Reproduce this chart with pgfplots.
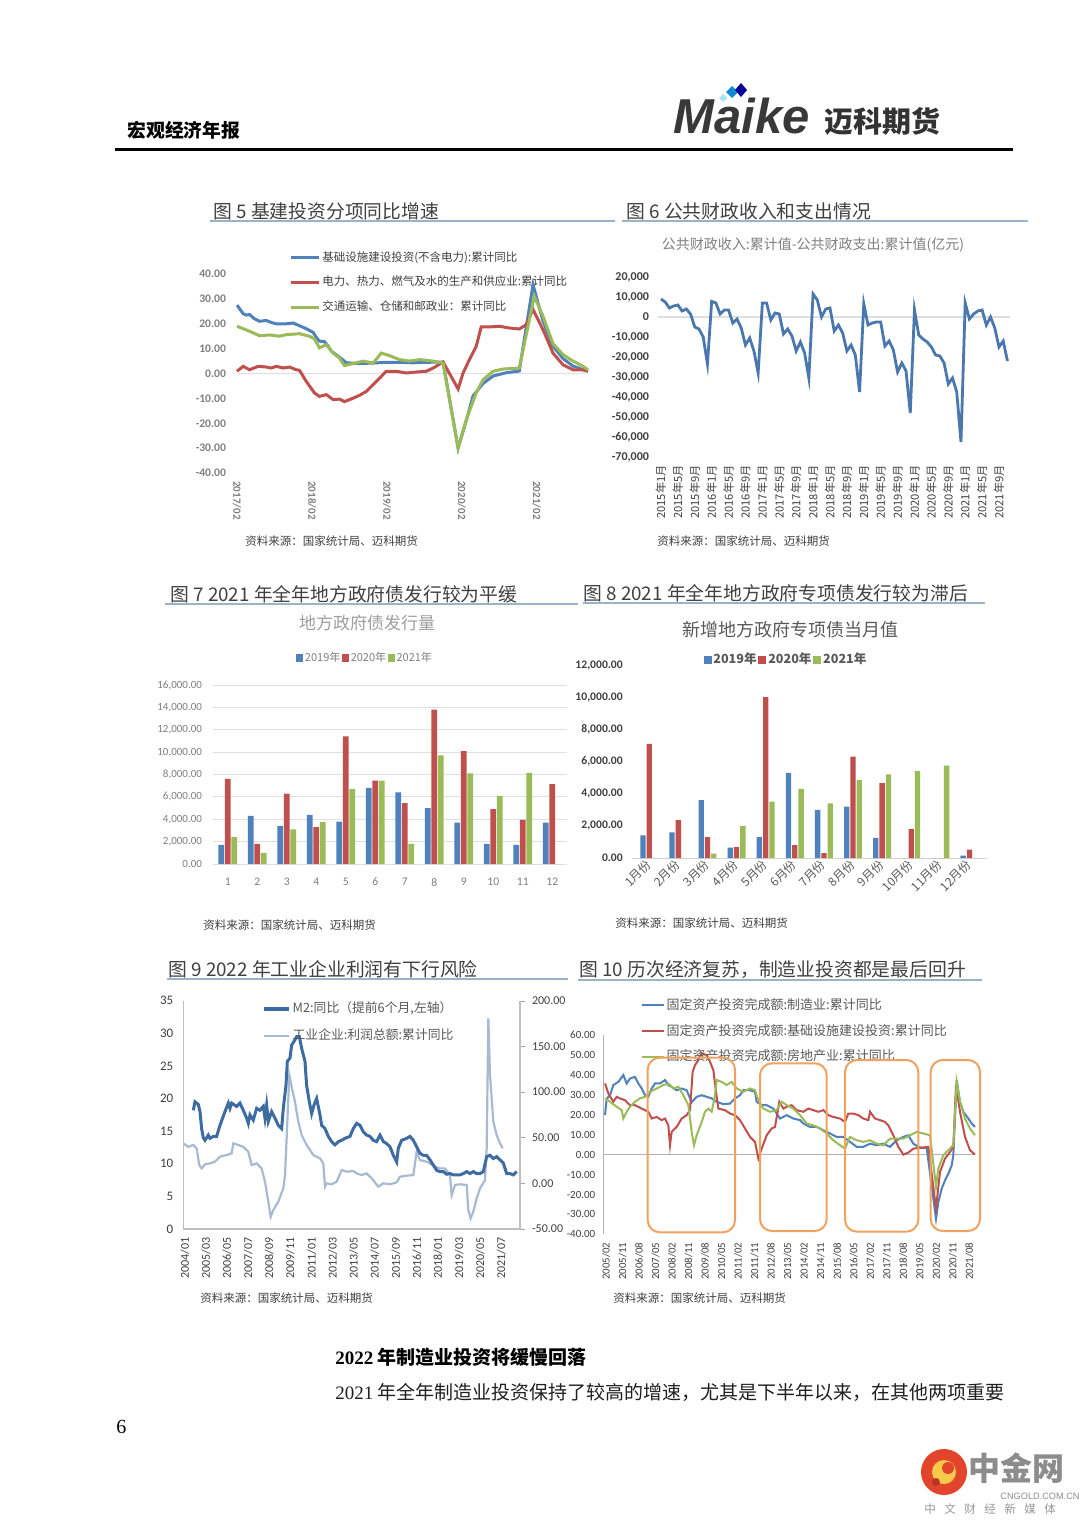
\documentclass[border=0pt]{standalone}
\usepackage{fontspec}
\usepackage{pgfplots}
\pgfplotsset{compat=1.18}
\setmainfont{Noto Sans CJK SC}
\newfontfamily\carl{Carlito}
\newfontfamily\lser{Liberation Serif}
\newfontfamily\lsans{Liberation Sans}
\newcommand\fs[1]{\fontsize{#1}{#1}\selectfont}
\definecolor{xlblue}{HTML}{4F81BD}
\definecolor{xlred}{HTML}{C0504D}
\definecolor{xlgreen}{HTML}{9BBB59}
\definecolor{m2blue}{HTML}{3D6CA3}
\definecolor{proflight}{HTML}{A8BAD2}
\definecolor{txt}{HTML}{404040}
\definecolor{txtg}{HTML}{595959}
\definecolor{lgray}{HTML}{7F7F7F}
\definecolor{uline}{HTML}{9CB2CB}
\definecolor{obox}{HTML}{F0A25E}
\definecolor{wmred}{HTML}{E2452B}
\definecolor{wmyel}{HTML}{F6C94A}
\pgfplotsset{
  every axis/.append style={scale only axis, anchor=south west,
    /pgf/number format/assume math mode=true, axis line style={draw=none},
    major tick length=0pt, clip=false, scaled ticks=false},
  fix2/.style={/pgf/number format/fixed, /pgf/number format/fixed zerofill, /pgf/number format/precision=2},
}
\begin{document}
\begin{tikzpicture}
\begin{scope}[x=0.5pt,y=-0.5pt]
\fill[white] (0,0) rectangle (1080,1527);
% header
\node[anchor=west, inner sep=0pt, text=black] at (127,130) {\bfseries\fs{9.4}宏观经济年报};
\node[anchor=base west, inner sep=0pt, text=black!78] at (673,133) {\lsans\bfseries\itshape\fs{24.5}Maike};
\fill[cyan!35] (719,98) -- (723,94) -- (727,98) -- (723,102) -- cycle;
\fill[cyan!70!blue] (726,92) -- (732,86) -- (738,92) -- (732,98) -- cycle;
\fill[blue!60!black] (735,90) -- (741,83) -- (747,90) -- (741,97) -- cycle;
\node[anchor=base west, inner sep=0pt, text=black!80] at (824,132) {\bfseries\fs{14.5}迈科期货};
\draw[black, line width=1.5pt] (115,149) -- (1013,149);
% titles
\node[anchor=base west, inner sep=0pt, text=txt] at (213,218) {\fs{9.4}图 5 基建投资分项同比增速};
\draw[uline, line width=0.8pt] (210,221) -- (615,221);
\node[anchor=base west, inner sep=0pt, text=txt] at (626,218) {\fs{9.4}图 6 公共财政收入和支出情况};
\draw[uline, line width=0.8pt] (622,221) -- (1028,221);
\node[text=lgray, inner sep=0pt] at (813,245) {\fs{7}公共财政收入:累计值-公共财政支出:累计值(亿元)};
\node[anchor=base west, inner sep=0pt, text=txt] at (170,601) {\fs{9.4}图 7 2021 年全年地方政府债发行较为平缓};
\draw[uline, line width=0.8pt] (165,604) -- (578,604);
\node[anchor=base west, inner sep=0pt, text=txt] at (583,600) {\fs{9.4}图 8 2021 年全年地方政府专项债发行较为滞后};
\draw[uline, line width=0.8pt] (583,603) -- (985,603);
\node[text=black!38, inner sep=0pt] at (367,623) {\fs{8.5}地方政府债发行量};
\node[text=txtg, inner sep=0pt] at (790,630) {\fs{9}新增地方政府专项债当月值};
\node[anchor=base west, inner sep=0pt, text=txt] at (168,976) {\fs{9.4}图 9 2022 年工业企业利润有下行风险};
\draw[uline, line width=0.8pt] (167,979) -- (568,979);
\node[anchor=base west, inner sep=0pt, text=txt] at (579,976) {\fs{9.4}图 10 历次经济复苏，制造业投资都是最后回升};
\draw[uline, line width=0.8pt] (578,980) -- (982,980);
% sources
\foreach \sx/\sy in {245/541, 657/541, 203/925, 615/923, 200/1298, 613/1298}
  \node[anchor=west, inner sep=0pt, text=txt] at (\sx,\sy) {\fs{5.75}资料来源：国家统计局、迈科期货};
\end{scope}

% ---------------- Chart 5 ----------------
\begin{axis}[at={(118.5pt,-236.5pt)}, width=175.5pt, height=99.5pt,
  xmin=0, xmax=56.2, ymin=-40, ymax=40,
  ytick={-40,-30,...,40},
  yticklabel style={font=\carl\bfseries\fs{5.8}, text=lgray, fix2}, yticklabel shift=2pt,
  xtick={0,12,24,36,48}, xticklabels={2017/02,2018/02,2019/02,2020/02,2021/02},
  xticklabel style={font=\carl\bfseries\fs{5.5}, text=lgray, rotate=-90, anchor=west, inner sep=0.5pt}, xticklabel shift=3.5pt,
  legend style={draw=none, fill=none, font=\fs{5.75}, text=txt, inner sep=0pt, row sep=4pt,
    nodes={inner sep=1pt}, at={(axis description cs:0.148,0.957)}, anchor=west},
  legend cell align=left,
  legend image code/.code={\draw[#1] (0pt,0pt) -- (14pt,0pt);},
]
\draw[gray!25, line width=0.6pt] (axis cs:0,0) -- (axis cs:56.2,0);
\addplot[xlblue, line width=1.5pt] coordinates {(0,27.5)(1.0,24.0)(1.5,23.5)(2.0,23.7)(2.8,22.0)(3.6,21.0)(4.7,21.3)(5.5,20.5)(6.3,20.0)(7.9,20.0)(9.0,20.3)(10.0,19.2)(11.1,18.0)(12.2,16.5)(12.7,14.5)(13.2,13.0)(14.0,12.8)(14.6,11.0)(15.1,9.0)(15.9,7.5)(16.7,6.0)(17.5,4.3)(19.6,4.0)(21.8,4.2)(23.9,4.5)(26.0,4.5)(28.2,4.3)(30.3,4.5)(33.0,4.6)(35.4,-30.0)(36.7,-19.0)(37.8,-9.0)(39.4,-4.0)(41.0,-1.0)(43.1,0.3)(45.2,1.0)(47.4,35.7)(49.0,21.0)(50.6,11.0)(52.2,6.0)(53.8,3.0)(55.4,1.5)(56.2,1.0)};
\addlegendentry{基础设施建设投资(不含电力):累计同比}
\addplot[xlred, line width=1.5pt] coordinates {(0,0.9)(1.0,2.9)(2.0,1.5)(3.4,2.9)(4.7,2.6)(5.5,2.2)(6.3,2.9)(7.4,2.2)(8.4,2.6)(9.5,1.5)(10.0,1.3)(11.1,-3.2)(12.4,-7.8)(13.2,-9.2)(14.3,-8.5)(15.4,-10.5)(16.4,-10.3)(17.2,-11.3)(18.6,-9.9)(19.6,-8.8)(20.7,-7.2)(22.3,-3.2)(23.9,0.9)(25.5,0.9)(27.1,0.2)(28.7,0.6)(30.3,0.9)(31.4,2.2)(33.0,4.6)(35.4,-6.2)(36.2,0.2)(37.2,5.5)(38.3,10.9)(39.1,18.7)(40.4,18.7)(42.0,19.0)(43.6,18.3)(45.2,17.9)(46.3,19.6)(47.4,25.7)(49.0,17.6)(50.6,8.2)(52.2,3.5)(53.8,1.5)(55.4,1.5)(56.2,0.9)};
\addlegendentry{电力、热力、燃气及水的生产和供应业:累计同比}
\addplot[xlgreen, line width=1.5pt] coordinates {(0,19.0)(2.0,17.0)(3.6,15.2)(5.2,15.5)(6.8,15.0)(7.9,15.6)(10.0,16.0)(11.6,15.0)(12.4,13.9)(13.2,10.3)(14.3,11.6)(15.4,8.2)(16.4,6.2)(17.2,3.2)(18.6,4.0)(20.2,5.0)(21.8,4.2)(23.1,8.2)(24.4,7.2)(26.0,5.6)(27.6,5.0)(29.2,5.6)(31.4,5.0)(33.0,4.2)(35.4,-30.0)(36.7,-18.6)(38.3,-7.8)(39.4,-2.5)(41.0,0.9)(42.6,1.8)(45.2,2.2)(47.6,31.0)(49.0,23.0)(50.6,12.0)(52.2,7.6)(53.8,5.0)(55.4,2.9)(56.2,1.5)};
\addlegendentry{交通运输、仓储和邮政业：累计同比}
\end{axis}

% ---------------- Chart 6 ----------------
\begin{axis}[at={(329pt,-228.5pt)}, width=176.2pt, height=90pt,
  xmin=-0.7, xmax=82.7, ymin=-70000, ymax=20000,
  ytick={-70000,-60000,...,20000},
  yticklabel style={font=\carl\bfseries\fs{6}, text=txt, /pgf/number format/1000 sep={,}}, yticklabel shift=1pt,
  xtick={0,4,...,80},
  xticklabels={2015年1月,2015年5月,2015年9月,2016年1月,2016年5月,2016年9月,2017年1月,2017年5月,2017年9月,2018年1月,2018年5月,2018年9月,2019年1月,2019年5月,2019年9月,2020年1月,2020年5月,2020年9月,2021年1月,2021年5月,2021年9月},
  xticklabel style={font=\fs{5.6}, text=txt, rotate=90, anchor=east, inner sep=0.4pt}, xticklabel shift=3.5pt,
]
\draw[gray!25, line width=0.6pt] (axis cs:-0.7,0) -- (axis cs:82.7,0);
\addplot[xlblue!92!black, line width=1.4pt] coordinates {
(0,9000)(1,7500)(2,4500)(3,5500)(4,6000)(5,3000)(6,4000)(7,1500)(8,-5000)(9,-6000)(10,-10000)(11,-23500)
(12,7800)(13,7000)(14,1500)(15,3500)(16,3500)(17,-3000)(18,-1000)(19,-5500)(20,-14000)(21,-10500)(22,-17000)(23,-28000)
(24,7000)(25,7000)(26,-1500)(27,2000)(28,1500)(29,-8500)(30,-6000)(31,-9500)(32,-17000)(33,-12500)(34,-18000)(35,-30500)
(36,11500)(37,8500)(38,0)(39,4000)(40,4500)(41,-7000)(42,-4000)(43,-8000)(44,-17000)(45,-14000)(46,-19000)(47,-37500)
(48,6600)(49,-4000)(50,-3000)(51,-2500)(52,-2500)(53,-14500)(54,-12000)(55,-16500)(56,-27500)(57,-23000)(58,-27000)(59,-48000)
(60,3600)(61,-9000)(62,-11000)(63,-12500)(64,-15000)(65,-19000)(66,-19500)(67,-23000)(68,-33500)(69,-30500)(70,-37500)(71,-62500)
(72,7000)(73,-1000)(74,1500)(75,3000)(76,3500)(77,-4000)(78,0)(79,-5500)(80,-15000)(81,-12000)(82,-22000)};
\end{axis}

% ---------------- Chart 7 ----------------
\begin{axis}[at={(106.5pt,-432pt)}, width=177pt, height=89.5pt,
  xmin=0.5, xmax=12.5, ymin=0, ymax=16000,
  ybar=0.45pt, bar width=2.8pt,
  ytick={0,2000,...,16000}, ymajorgrids, grid style={gray!25, line width=0.5pt},
  yticklabel style={font=\carl\fs{5.5}, text=lgray, fix2, /pgf/number format/1000 sep={,}}, yticklabel shift=2pt,
  xtick={1,...,12}, xticklabel style={font=\carl\fs{5.8}, text=lgray}, xticklabel shift=3.5pt,
  legend style={draw=none, fill=none, font=\fs{5.5}, text=lgray, inner sep=0pt, legend columns=3,
    nodes={inner sep=0.8pt}, at={(axis description cs:0.429,1.151)}, anchor=center},
  legend image code/.code={\draw[#1, draw=none] (0pt,-1.8pt) rectangle (3.6pt,1.8pt);},
]
\addplot[fill=xlblue, draw=none] coordinates {(1,1700)(2,4300)(3,3400)(4,4400)(5,3800)(6,6800)(7,6400)(8,5000)(9,3700)(10,1800)(11,1700)(12,3700)};
\addlegendentry{2019年}
\addplot[fill=xlred, draw=none] coordinates {(1,7600)(2,1800)(3,6300)(4,3300)(5,11400)(6,7450)(7,5450)(8,13800)(9,10100)(10,4900)(11,3950)(12,7150)};
\addlegendentry{2020年}
\addplot[fill=xlgreen, draw=none] coordinates {(1,2400)(2,1000)(3,3100)(4,3750)(5,6700)(6,7450)(7,1800)(8,9700)(9,8100)(10,6100)(11,8150)(12,0)};
\addlegendentry{2021年}
\end{axis}

% ---------------- Chart 8 ----------------
\begin{axis}[at={(315.9pt,-429pt)}, width=177.55pt, height=96.5pt,
  xmin=0.4, xmax=12.6, ymin=0, ymax=12000,
  ybar=0.5pt, bar width=2.65pt,
  ytick={0,2000,...,12000},
  yticklabel style={font=\carl\bfseries\fs{5.8}, text=txt, fix2, /pgf/number format/1000 sep={,}}, yticklabel shift=1pt,
  xtick={1,...,12}, xticklabels={1月份,2月份,3月份,4月份,5月份,6月份,7月份,8月份,9月份,10月份,11月份,12月份},
  xticklabel style={font=\fs{6}, text=txtg, rotate=45, anchor=east, inner sep=0.3pt}, xticklabel shift=2pt,
  legend style={draw=none, fill=none, font=\bfseries\fs{6.3}, text=txtg, inner sep=0pt, legend columns=3,
    nodes={inner sep=0.9pt}, at={(axis description cs:0.434,1.026)}, anchor=center},
  legend image code/.code={\draw[#1, draw=none] (0pt,-2pt) rectangle (4pt,2pt);},
]
\draw[gray!35, line width=0.5pt] (axis cs:0.4,0) -- (axis cs:12.6,0);
\addplot[fill=xlblue, draw=none] coordinates {(1,1400)(2,1600)(3,3600)(4,650)(5,1300)(6,5300)(7,3000)(8,3200)(9,1250)(10,0)(11,0)(12,150)};
\addlegendentry{2019年}
\addplot[fill=xlred, draw=none] coordinates {(1,7100)(2,2350)(3,1300)(4,680)(5,10000)(6,800)(7,300)(8,6300)(9,4650)(10,1800)(11,0)(12,520)};
\addlegendentry{2020年}
\addplot[fill=xlgreen, draw=none] coordinates {(1,0)(2,0)(3,270)(4,2000)(5,3500)(6,4300)(7,3400)(8,4850)(9,5200)(10,5400)(11,5750)(12,0)};
\addlegendentry{2021年}
\end{axis}

% ---------------- Chart 9 (right axis) ----------------
\begin{axis}[at={(91.65pt,-614.5pt)}, width=168.35pt, height=114.15pt,
  xmin=100, xmax=1110, ymin=-50, ymax=200, xtick=\empty,
  ytick={-50,0,...,200}, ytick pos=right, yticklabel pos=right,
  major tick length=2.5pt, tick align=outside, ytick style={draw=gray!70},
  yticklabel style={font=\carl\fs{6}, text=txt, fix2},
]
\addplot[proflight, line width=1.1pt] coordinates {(100,43.8)(115,40.0)(130,42.0)(140,38.3)(148,20.0)(155,16.4)(165,20.8)(180,21.9)(195,23.7)(210,29.2)(230,31.0)(245,32.8)(250,43.8)(265,42.0)(280,40.0)(295,34.7)(305,20.0)(320,21.9)(335,16.4)(345,1.8)(355,-20.0)(362,-36.5)(370,-29.2)(385,-20.0)(400,-5.5)(405,9.1)(410,49.3)(418,118.6)(425,105.8)(435,89.4)(445,67.5)(455,52.9)(470,42.0)(490,31.0)(510,27.4)(520,21.9)(525,-3.6)(530,0.0)(545,-1.0)(560,1.8)(575,14.6)(590,12.8)(610,13.5)(620,10.9)(635,9.1)(650,10.9)(665,5.5)(685,-3.6)(700,0.0)(720,-1.0)(740,1.1)(750,7.3)(770,8.4)(790,9.1)(800,34.7)(810,25.5)(830,23.7)(840,21.9)(855,18.2)(870,16.4)(885,16.4)(900,9.1)(905,-12.8)(915,-1.8)(930,-1.0)(950,-1.8)(955,-29.2)(962,-38.3)(970,-31.0)(980,-16.4)(990,-5.5)(1005,3.6)(1010,38.3)(1015,180.7)(1020,118.6)(1030,67.5)(1040,52.9)(1050,43.8)(1058,38.3)};
\end{axis}
% ---------------- Chart 9 (left axis) ----------------
\begin{axis}[at={(91.65pt,-614.5pt)}, width=168.35pt, height=114.15pt,
  xmin=100, xmax=1110, ymin=0, ymax=35, ytick={0,5,...,35},
  yticklabel style={font=\carl\fs{6.5}, text=txt}, yticklabel shift=1.5pt,
  xtick={105,168,231,295,358,421,485,548,611,674,738,801,864,928,991,1054},
  xticklabels={2004/01,2005/03,2006/05,2007/07,2008/09,2009/11,2011/01,2012/03,2013/05,2014/07,2015/09,2016/11,2018/01,2019/03,2020/05,2021/07},
  xticklabel style={font=\carl\fs{6}, text=txt, rotate=90, anchor=east, inner sep=0.5pt}, xticklabel shift=3.5pt,
  legend style={draw=none, fill=none, font=\fs{6.4}, text=txtg, inner sep=0pt, row sep=4.5pt,
    nodes={inner sep=1pt}, at={(axis description cs:0.234,0.905)}, anchor=west},
  legend cell align=left,
  legend image code/.code={\draw[#1] (0pt,0pt) -- (12.5pt,0pt);},
]
\draw[gray!50, line width=0.6pt] (axis cs:100,35) -- (axis cs:100,0) -- (axis cs:1110,0) -- (axis cs:1110,35);
\addlegendimage{m2blue, line width=1.6pt}
\addlegendentry{M2:同比（提前6个月,左轴）}
\addlegendimage{proflight, line width=1.1pt}
\addlegendentry{工业企业:利润总额:累计同比}
\addplot[m2blue, line width=1.5pt, forget plot] coordinates {(130,18.2)(135,19.5)(145,19.1)(150,18.0)(155,15.4)(160,14.0)(165,13.6)(175,14.4)(180,13.9)(190,14.2)(200,14.2)(210,15.9)(225,18.0)(235,19.3)(240,18.5)(245,19.3)(260,18.8)(270,19.3)(280,18.2)(290,17.0)(295,16.2)(300,17.5)(310,16.7)(320,18.5)(330,18.2)(340,18.8)(345,17.0)(350,19.0)(355,16.5)(365,18.0)(375,17.0)(385,15.9)(395,15.4)(400,18.5)(408,22.0)(412,25.7)(420,26.2)(425,28.2)(435,29.0)(440,29.5)(448,29.5)(455,27.7)(465,25.7)(470,22.0)(478,19.5)(485,17.7)(492,19.0)(500,20.0)(510,17.5)(515,15.9)(525,15.4)(535,14.2)(545,13.4)(555,12.9)(565,13.4)(575,13.6)(585,13.9)(600,14.2)(610,15.4)(620,16.2)(630,15.9)(640,14.9)(650,14.4)(660,14.2)(670,13.6)(680,13.4)(690,14.4)(700,13.4)(710,13.1)(720,12.6)(730,11.3)(740,10.3)(745,12.4)(755,13.6)(770,13.9)(780,14.2)(790,13.6)(800,12.6)(810,11.6)(820,11.3)(830,11.3)(840,10.6)(850,9.8)(860,9.0)(870,8.8)(880,8.8)(890,8.4)(900,8.5)(910,8.3)(920,8.3)(930,8.3)(940,8.5)(950,8.8)(960,8.5)(970,8.8)(980,8.5)(990,8.5)(1000,8.8)(1010,11.1)(1020,11.3)(1030,10.8)(1040,11.1)(1050,10.6)(1060,10.1)(1070,8.5)(1080,8.5)(1090,8.3)(1100,8.8)};
\end{axis}

% ---------------- Chart 10 ----------------
\begin{axis}[at={(301.67pt,-617.17pt)}, width=185.83pt, height=99.67pt,
  xmin=100, xmax=1215, ymin=-40, ymax=60, ytick={-40,-30,...,60},
  yticklabel style={font=\carl\fs{5.5}, text=txt, fix2}, yticklabel shift=0.5pt,
  xtick={108,157.5,207,256.6,306.2,355.7,405.3,454.8,504.4,553.9,603.5,653,702.6,752.1,801.7,851.2,900.8,950.3,999.9,1049.4,1099,1148.5,1198},
  xticklabels={2005/02,2005/11,2006/08,2007/05,2008/02,2008/11,2009/08,2010/05,2011/02,2011/11,2012/08,2013/05,2014/02,2014/11,2015/08,2016/05,2017/02,2017/11,2018/08,2019/05,2020/02,2020/11,2021/08},
  xticklabel style={font=\carl\fs{5.4}, text=txt, rotate=90, anchor=east, inner sep=0.5pt}, xticklabel shift=3.5pt,
  legend style={draw=none, fill=none, font=\fs{6.5}, text=txtg, inner sep=0pt, row sep=3.8pt,
    nodes={inner sep=1pt}, at={(axis description cs:0.099,1.02)}, anchor=west},
  legend cell align=left,
  legend image code/.code={\draw[#1] (0pt,0pt) -- (11pt,0pt);},
]
\draw[gray!60, line width=0.5pt] (axis cs:100,-40) -- (axis cs:100,60);
\draw[gray!60, line width=0.5pt] (axis cs:100,0) -- (axis cs:1215,0);
\addplot[xlblue, line width=1pt] coordinates {(105,19.8)(110,28)(120,29.8)(130,34.9)(145,36.5)(160,39.9)(170,35.7)(180,38.2)(195,39)(205,35.7)(215,33.2)(225,29.8)(235,29)(245,33.2)(255,35.7)(270,35.7)(285,37.4)(295,34.9)(305,34)(320,32.3)(335,33.2)(350,32.3)(365,26.3)(380,29)(395,29.8)(410,29)(425,28.2)(440,26.5)(460,25.3)(480,25.6)(495,28.2)(510,29.8)(520,32.3)(540,32.3)(555,31.5)(560,26.5)(575,24.8)(590,24.8)(610,23.1)(630,18.1)(650,19.8)(670,18.1)(690,17.3)(700,15.6)(720,13.9)(740,13.9)(760,12.2)(780,10.6)(800,8.9)(820,8.9)(840,6.4)(860,3.9)(880,3.9)(900,5.5)(920,4.7)(940,5.5)(960,3.9)(980,7.2)(1000,8.9)(1015,9.7)(1030,5.5)(1045,3.9)(1055,3.4)(1070,3.4)(1098,-32.2)(1105,-23.8)(1115,-17.1)(1125,-12.9)(1135,-9.6)(1145,-5.4)(1150,-0.3)(1160,37.4)(1170,26.5)(1180,21.5)(1195,18.1)(1205,15.6)(1215,13.9)};
\addlegendentry{固定资产投资完成额:制造业:累计同比}
\addplot[xlred, line width=1pt] coordinates {(105,35.7)(115,30.7)(130,26.5)(140,29)(150,28.2)(165,27.3)(180,24.8)(195,24.8)(215,23.1)(235,21.5)(245,18.1)(260,18.9)(275,17.3)(285,18.1)(295,14.7)(300,4.7)(305,11.4)(320,13.9)(335,18.1)(350,19.8)(360,22.3)(368,41.6)(375,44.9)(385,47.4)(395,50.8)(410,49.9)(420,46.6)(430,42.4)(438,31.5)(445,23.1)(465,22.3)(480,20.6)(495,19.8)(510,17.3)(525,13.1)(540,8.9)(555,6.4)(565,-2)(575,3)(590,9.7)(605,13.1)(615,13.9)(628,26.5)(640,23.1)(650,24)(665,24.8)(680,22.3)(700,21.5)(715,23.1)(730,22.3)(745,21.5)(760,22.3)(775,19.8)(790,18.9)(810,18.1)(825,16.4)(835,20.6)(850,20.6)(865,19.8)(880,18.1)(895,17.3)(900,21.5)(915,18.1)(930,17.3)(945,16.4)(955,14.7)(970,9.7)(985,3.9)(1000,0)(1015,1)(1030,3)(1050,3.4)(1075,3.9)(1098,-27.1)(1110,-8.7)(1125,-2)(1140,1.3)(1150,3.9)(1158,34.9)(1170,21.5)(1185,8.9)(1200,2.2)(1215,0)};
\addlegendentry{固定资产投资完成额:基础设施建设投资:累计同比}
\addplot[xlgreen, line width=1pt] coordinates {(105,28.2)(120,26.5)(140,24)(155,22.3)(160,18.1)(170,21.5)(180,24)(195,26.5)(210,28.2)(225,29)(240,31.5)(260,33.2)(280,34.9)(295,35.7)(310,33.2)(325,34)(340,29.8)(355,24.8)(365,11.4)(372,4.7)(380,9.7)(395,16.4)(405,21.5)(415,23.1)(425,21.5)(435,29.8)(440,37.4)(455,36.5)(470,34.9)(485,36.5)(500,33.2)(520,31.5)(540,33.2)(555,32.3)(565,27.3)(580,23.1)(600,21.5)(620,22.3)(635,26.5)(650,24.8)(670,23.1)(690,19.8)(710,15.6)(730,14.7)(750,13.1)(770,10.6)(790,7.2)(810,4.7)(825,3)(840,8.9)(860,7.2)(880,6.4)(900,7.2)(920,5.5)(940,4.7)(960,8)(980,8)(1000,8)(1020,9.7)(1040,11.4)(1060,10.6)(1080,9.7)(1098,-16)(1105,-7)(1120,-0.3)(1135,2.2)(1150,4.7)(1160,36.5)(1170,26.5)(1185,18.1)(1200,13.1)(1215,9.7)};
\addlegendentry{固定资产投资完成额:房地产业:累计同比}
\end{axis}

\begin{scope}[x=0.5pt,y=-0.5pt]
% orange boxes
\draw[obox, line width=1pt, rounded corners=6pt] (647.7,1057.7) rectangle (735,1232.3);
\draw[obox, line width=1pt, rounded corners=6pt] (760,1063.3) rectangle (826.7,1231);
\draw[obox, line width=1pt, rounded corners=6pt] (845,1060) rectangle (918.3,1231.7);
\draw[obox, line width=1pt, rounded corners=6pt] (930.7,1060) rectangle (980,1231);
% body text
\node[anchor=west, inner sep=0pt, text=black] at (335,1357) {\bfseries\fs{9.5}{\lser\bfseries 2022} 年制造业投资将缓慢回落};
\node[anchor=west, inner sep=0pt, text=black!88] at (335,1392) {\fs{9.5}{\lser 2021} 年全年制造业投资保持了较高的增速，尤其是下半年以来，在其他两项重要};
\node[anchor=west, inner sep=0pt, text=black] at (116,1427) {\lser\fs{10}6};
% watermark
\fill[wmred] (944,1472) circle (23);
\fill[wmyel] (944,1472) circle (12);
\fill[wmred] (948,1468) circle (6);
\fill[wmred!80!black] (936,1482) circle (4);
\node[anchor=west, inner sep=0pt, text=black!45] at (968,1468) {\bfseries\fs{16}中金网};
\node[anchor=west, inner sep=0pt, text=black!45] at (1000,1496) {\lsans\fs{4.6}CNGOLD.COM.CN};
\node[anchor=west, inner sep=0pt, text=black!40] at (924,1509) {\fs{5.8}中\hspace{4.2pt}文\hspace{4.2pt}财\hspace{4.2pt}经\hspace{4.2pt}新\hspace{4.2pt}媒\hspace{4.2pt}体};
\end{scope}
\end{tikzpicture}
\end{document}
